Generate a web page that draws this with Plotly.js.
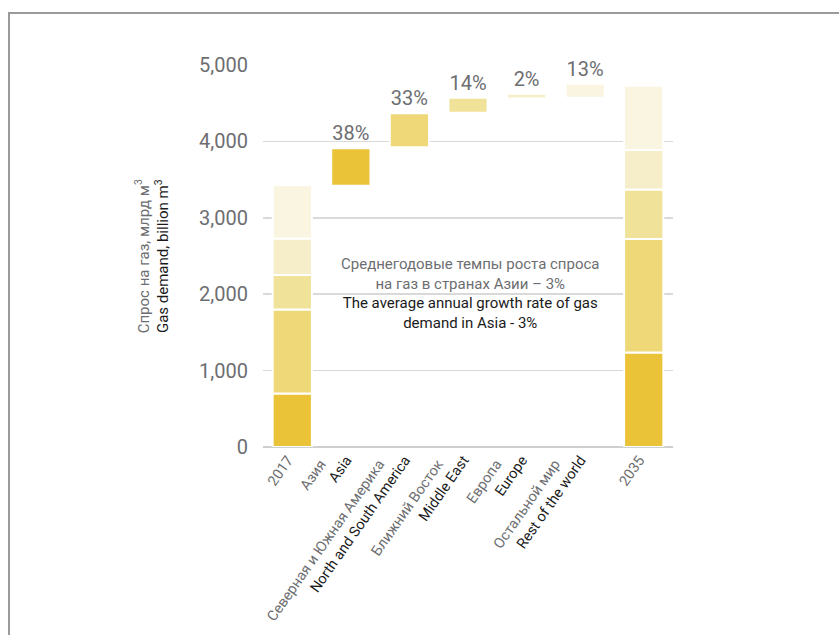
<!DOCTYPE html>
<html>
<head>
<meta charset="utf-8">
<script src="https://cdn.plot.ly/plotly-3.0.1.min.js"></script>
<style>
  html, body { margin: 0; padding: 0; background: #fff; }
  #wrap { position: relative; width: 839px; height: 635px; overflow: hidden; }
  #chart { position: absolute; left: 0; top: 0; width: 839px; height: 635px; }
  #frame { position: absolute; left: 8px; top: 12px; width: 840px; height: 640px;
           border-left: 2px solid #9a9a9a; border-top: 2px solid #9a9a9a; pointer-events: none; }
</style>
</head>
<body>
<div id="wrap"><div id="chart"></div><div id="frame"></div></div>
<script>
// ---- data ----
const categories = ["2017", "Asia", "NSA", "ME", "Europe", "RoW", "2035"];
const labelsRu = ["", "Азия", "Северная и Южная Америка", "Ближний Восток", "Европа", "Остальной мир", ""];
const labelsEn = ["2017", "Asia", "North and South America", "Middle East", "Europe", "Rest of the world", "2035"];
const regions = ["Asia", "North and South America", "Middle East", "Europe", "Rest of the world"];
const demand2017 = [700, 1100, 450, 480, 700];      // billion m3 by region
const demand2035 = [1237, 1484, 651, 515, 842];     // billion m3 by region
const stepBase = [3420, 3925, 4375, 4560, 4570];    // start of each increment bar
const stepValue = [490, 445, 195, 65, 185];         // increment bar height
const shareOfGrowth = ["38%", "33%", "14%", "2%", "13%"];
const colors = ["#EBC339", "#EED878", "#F1E299", "#F5EEC8", "#FAF5E0"];
const yTicks = [0, 1000, 2000, 3000, 4000, 5000];

const FONT = 'Roboto, "Liberation Sans", sans-serif';
const GRAY = "#6d6e71";
const DARK = "#1a1a1a";

function cum(arr) { const out = []; let s = 0; for (const v of arr) { out.push(s); s += v; } return out; }
const base2017 = cum(demand2017);
const base2035 = cum(demand2035);

const traces = [];
regions.forEach((r, i) => {
  traces.push({
    type: "bar", name: r,
    x: ["2017", "2035"],
    y: [demand2017[i], demand2035[i]],
    base: [base2017[i], base2035[i]],
    width: 0.67,
    marker: { color: colors[i], line: { color: "#ffffff", width: 2 } },
    hoverinfo: "skip", showlegend: false
  });
});
regions.forEach((r, i) => {
  traces.push({
    type: "bar", name: r + " growth",
    x: [categories[i + 1]],
    y: [stepValue[i]],
    base: [stepBase[i]],
    width: 0.67,
    marker: { color: colors[i], line: { color: "#ffffff", width: 2 } },
    text: [shareOfGrowth[i]],
    textposition: "outside",
    textfont: { family: FONT, size: 20, color: GRAY },
    constraintext: "none",
    cliponaxis: false,
    hoverinfo: "skip", showlegend: false
  });
});

const PAD = "\u00A0\u00A0\u00A0\u00A0\u00A0";
const tickText = categories.map((c, i) => {
  const ru = labelsRu[i] ? '<span style="color:' + GRAY + '">' + labelsRu[i] + PAD + '</span>' : ' ';
  const enColor = labelsRu[i] ? DARK : GRAY;
  return ru + '<br><span style="color:' + enColor + '">' + labelsEn[i] + '</span>';
});

const layout = {
  width: 839, height: 635,
  margin: { l: 263, r: 166, t: 65, b: 188 },
  paper_bgcolor: "#ffffff", plot_bgcolor: "#ffffff",
  barmode: "overlay",
  showlegend: false,
  font: { family: FONT, color: GRAY },
  xaxis: {
    type: "category",
    categoryorder: "array", categoryarray: categories,
    tickvals: categories, ticktext: tickText,
    tickangle: -55,
    tickfont: { family: FONT, size: 14.5, color: GRAY },
    ticklabelshift: -20,
    ticklabelstandoff: -10,
    showgrid: false, zeroline: false, showline: false, ticks: "",
    range: [-0.5, 6.5], fixedrange: true
  },
  yaxis: {
    range: [0, 5000],
    tickvals: yTicks,
    tickformat: ",d",
    tickfont: { family: FONT, size: 20, color: GRAY },
    ticklabelstandoff: 14,
    showgrid: true, gridcolor: "#d9d9d9", gridwidth: 1.5,
    zeroline: true, zerolinecolor: "#cfcfcf", zerolinewidth: 2,
    showline: false, ticks: "", fixedrange: true
  },
  annotations: [
    {
      xref: "paper", yref: "paper", x: -0.27, y: 0.5,
      xanchor: "center", yanchor: "middle", textangle: -90, showarrow: false,
      text: '<span style="color:' + GRAY + '">Спрос на газ, млрд м<sup>3</sup></span><br><span style="color:' + DARK + '">Gas demand, billion m<sup>3</sup></span>',
      font: { family: FONT, size: 15, color: GRAY }
    },
    {
      xref: "paper", yref: "y", x: 0.505, y: 2010,
      xanchor: "center", yanchor: "middle", showarrow: false, align: "center",
      text: '<span style="color:' + GRAY + '">Среднегодовые темпы роста спроса<br>на газ в странах Азии – 3%</span><br><span style="color:' + DARK + '">The average annual growth rate of gas<br>demand in Asia - 3%</span>',
      font: { family: FONT, size: 15, color: GRAY }
    }
  ]
};

Plotly.newPlot("chart", traces, layout, { displayModeBar: false, staticPlot: true });
</script>
</body>
</html>
